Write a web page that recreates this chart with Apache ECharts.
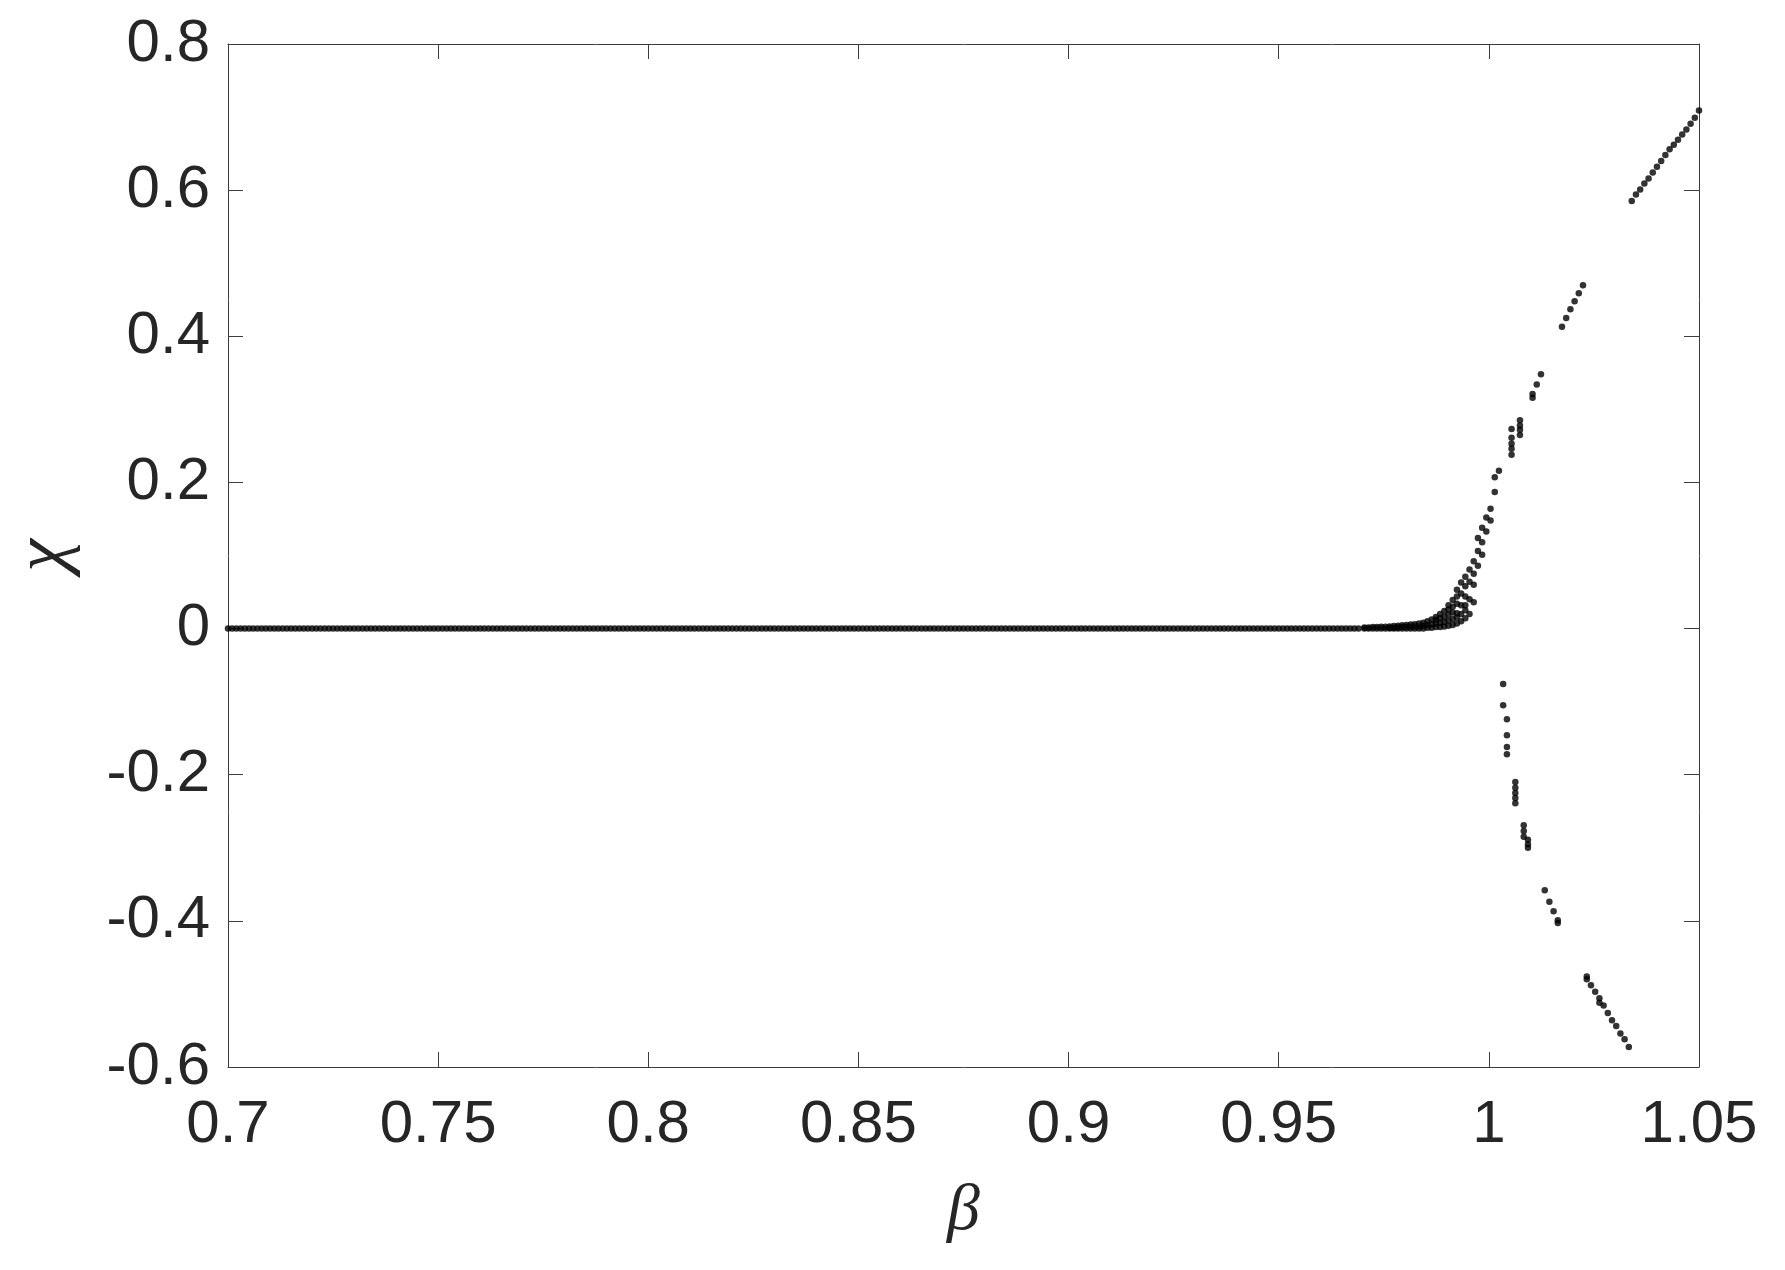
<!DOCTYPE html>
<html>
<head>
<meta charset="utf-8">
<title>chi vs beta</title>
<script src="https://cdn.jsdelivr.net/npm/echarts@6/dist/echarts.min.js"></script>
<style>
  html, body { margin: 0; padding: 0; background: #fff; }
  #chart { width: 1785px; height: 1270px; }
</style>
</head>
<body>
<div id="chart"></div>
<script>
// tick labels, printed the way matlab does it
const xTickLabels = ['0.7', '0.75', '0.8', '0.85', '0.9', '0.95', '1', '1.05']
const yTickLabels = ['-0.6', '-0.4', '-0.2', '0', '0.2', '0.4', '0.6', '0.8']

// beta samples where chi stays on zero
const betaFlat = [
  0.700, 0.701, 0.702, 0.703, 0.704, 0.705, 0.706, 0.707, 0.708, 0.709,
  0.710, 0.711, 0.712, 0.713, 0.714, 0.715, 0.716, 0.717, 0.718, 0.719,
  0.720, 0.721, 0.722, 0.723, 0.724, 0.725, 0.726, 0.727, 0.728, 0.729,
  0.730, 0.731, 0.732, 0.733, 0.734, 0.735, 0.736, 0.737, 0.738, 0.739,
  0.740, 0.741, 0.742, 0.743, 0.744, 0.745, 0.746, 0.747, 0.748, 0.749,
  0.750, 0.751, 0.752, 0.753, 0.754, 0.755, 0.756, 0.757, 0.758, 0.759,
  0.760, 0.761, 0.762, 0.763, 0.764, 0.765, 0.766, 0.767, 0.768, 0.769,
  0.770, 0.771, 0.772, 0.773, 0.774, 0.775, 0.776, 0.777, 0.778, 0.779,
  0.780, 0.781, 0.782, 0.783, 0.784, 0.785, 0.786, 0.787, 0.788, 0.789,
  0.790, 0.791, 0.792, 0.793, 0.794, 0.795, 0.796, 0.797, 0.798, 0.799,
  0.800, 0.801, 0.802, 0.803, 0.804, 0.805, 0.806, 0.807, 0.808, 0.809,
  0.810, 0.811, 0.812, 0.813, 0.814, 0.815, 0.816, 0.817, 0.818, 0.819,
  0.820, 0.821, 0.822, 0.823, 0.824, 0.825, 0.826, 0.827, 0.828, 0.829,
  0.830, 0.831, 0.832, 0.833, 0.834, 0.835, 0.836, 0.837, 0.838, 0.839,
  0.840, 0.841, 0.842, 0.843, 0.844, 0.845, 0.846, 0.847, 0.848, 0.849,
  0.850, 0.851, 0.852, 0.853, 0.854, 0.855, 0.856, 0.857, 0.858, 0.859,
  0.860, 0.861, 0.862, 0.863, 0.864, 0.865, 0.866, 0.867, 0.868, 0.869,
  0.870, 0.871, 0.872, 0.873, 0.874, 0.875, 0.876, 0.877, 0.878, 0.879,
  0.880, 0.881, 0.882, 0.883, 0.884, 0.885, 0.886, 0.887, 0.888, 0.889,
  0.890, 0.891, 0.892, 0.893, 0.894, 0.895, 0.896, 0.897, 0.898, 0.899,
  0.900, 0.901, 0.902, 0.903, 0.904, 0.905, 0.906, 0.907, 0.908, 0.909,
  0.910, 0.911, 0.912, 0.913, 0.914, 0.915, 0.916, 0.917, 0.918, 0.919,
  0.920, 0.921, 0.922, 0.923, 0.924, 0.925, 0.926, 0.927, 0.928, 0.929,
  0.930, 0.931, 0.932, 0.933, 0.934, 0.935, 0.936, 0.937, 0.938, 0.939,
  0.940, 0.941, 0.942, 0.943, 0.944, 0.945, 0.946, 0.947, 0.948, 0.949,
  0.950, 0.951, 0.952, 0.953, 0.954, 0.955, 0.956, 0.957, 0.958, 0.959,
  0.960, 0.961, 0.962, 0.963, 0.964, 0.965, 0.966, 0.967, 0.968, 0.969
]
const chiFlat = 0

// onset: several chi values per beta column
const betaRise = [
  0.9704, 0.9714, 0.9724, 0.9734, 0.9744, 0.9754, 0.9764, 0.9774, 0.9784, 0.9794,
  0.9804, 0.9814, 0.9824, 0.9834, 0.9844, 0.9854, 0.9864, 0.9874, 0.9884, 0.9894,
  0.9904, 0.9914, 0.9924, 0.9934, 0.9944, 0.9954, 0.9964, 0.9974, 0.9984, 0.9994,
  1.0004, 1.0014, 1.0024, 1.0054, 1.0074, 1.0104, 1.0114, 1.0124,
  1.0174, 1.0184, 1.0194, 1.0204, 1.0214, 1.0224
]
const chiRise = [
  [0, 0.0015], [0, 0.0015], [0, 0.002], [0, 0.002], [0, 0.0025],
  [0, 0.0025], [0, 0.001, 0.003], [0, 0.001, 0.0035], [0, 0.0015, 0.004], [0, 0.002, 0.0045],
  [0, 0.002, 0.005], [0, 0.0025, 0.0055], [0, 0.003, 0.006], [0, 0.003, 0.007], [0, 0.004, 0.008],
  [0.001, 0.005, 0.010], [0.001, 0.006, 0.0125], [0.002, 0.007, 0.012, 0.016],
  [0.002, 0.008, 0.014, 0.020], [0.003, 0.009, 0.016, 0.024],
  [0.004, 0.011, 0.019, 0.026, 0.032], [0.005, 0.013, 0.022, 0.030, 0.039],
  [0.007, 0.015, 0.021, 0.034, 0.044, 0.053], [0.010, 0.020, 0.032, 0.048, 0.063],
  [0.014, 0.025, 0.032, 0.044, 0.058, 0.071], [0.020, 0.040, 0.064, 0.081],
  [0.036, 0.060, 0.075, 0.092], [0.086, 0.106, 0.124], [0.101, 0.118, 0.138],
  [0.133, 0.152], [0.148, 0.164], [0.187, 0.207], [0.216],
  [0.238, 0.246, 0.253, 0.261, 0.273], [0.265, 0.272, 0.278, 0.285],
  [0.316, 0.321], [0.334], [0.348],
  [0.413], [0.425], [0.437], [0.448], [0.459], [0.470]
]

// negative branch
const betaLower = [
  1.0034, 1.0043, 1.0063, 1.0083, 1.0093, 1.0133, 1.0144, 1.0154, 1.0164,
  1.0233, 1.0243, 1.0253, 1.0263, 1.0273, 1.0283, 1.0293, 1.0303, 1.0313, 1.0323, 1.0333
]
const chiLower = [
  [-0.076, -0.105], [-0.124, -0.146, -0.162, -0.172], [-0.210, -0.218, -0.225, -0.232, -0.239],
  [-0.269, -0.277, -0.285], [-0.289, -0.295, -0.300], [-0.358], [-0.374], [-0.387], [-0.399, -0.403],
  [-0.476, -0.480], [-0.488], [-0.497], [-0.506, -0.512], [-0.516], [-0.526], [-0.536],
  [-0.544], [-0.554], [-0.562], [-0.5725]
]

// top branch
const betaUpper = [
  1.034, 1.035, 1.036, 1.037, 1.038, 1.039, 1.040, 1.041, 1.042,
  1.043, 1.044, 1.045, 1.046, 1.047, 1.048, 1.049, 1.050
]
const chiUpper = [
  0.585, 0.594, 0.601, 0.609, 0.616, 0.624, 0.632, 0.640, 0.648,
  0.656, 0.662, 0.669, 0.676, 0.683, 0.691, 0.699, 0.709
]

function columns(betas, chis) {
  const out = []
  betas.forEach((b, i) => {
    [].concat(chis[i]).forEach(c => out.push([b, c]))
  })
  return out
}

const points = []
  .concat(betaFlat.map(b => [b, chiFlat]))
  .concat(columns(betaRise, chiRise))
  .concat(columns(betaLower, chiLower))
  .concat(columns(betaUpper, chiUpper))

const textColor = '#262626'
const lineColor = '#3c3c3c'

const xBase = {
  type: 'value', min: 0.7, max: 1.05, interval: 0.05,
  axisLine: { show: true, onZero: false, lineStyle: { color: lineColor, width: 1 } },
  axisTick: { show: true, inside: true, length: 15, lineStyle: { color: lineColor, width: 1 } },
  splitLine: { show: false }
}
const yBase = {
  type: 'value', min: -0.6, max: 0.8, interval: 0.2,
  axisLine: { show: true, onZero: false, lineStyle: { color: lineColor, width: 1 } },
  axisTick: { show: true, inside: true, length: 15, lineStyle: { color: lineColor, width: 1 } },
  splitLine: { show: false }
}

const chart = echarts.init(document.getElementById('chart'))
chart.setOption({
  animation: false,
  backgroundColor: '#ffffff',
  grid: { left: 228, right: 86, top: 44, bottom: 203, containLabel: false, outerBoundsMode: 'none' },
  xAxis: [
    Object.assign({}, xBase, {
      position: 'bottom',
      name: 'β',
      nameLocation: 'middle',
      nameGap: 112,
      nameTextStyle: { fontFamily: 'Liberation Serif', fontStyle: 'italic', fontSize: 66, color: textColor },
      axisLabel: {
        margin: 28,
        fontFamily: 'Liberation Sans', fontSize: 60, color: textColor,
        formatter: v => xTickLabels[Math.round((v - 0.7) / 0.05)]
      }
    }),
    Object.assign({}, xBase, { position: 'top', axisLabel: { show: false } })
  ],
  yAxis: [
    Object.assign({}, yBase, {
      position: 'left',
      name: 'χ',
      nameLocation: 'middle',
      nameGap: 146,
      nameTextStyle: { fontFamily: 'Liberation Serif', fontStyle: 'italic', fontSize: 74, color: textColor },
      axisLabel: {
        margin: 18,
        fontFamily: 'Liberation Sans', fontSize: 60, color: textColor,
        formatter: v => yTickLabels[Math.round((v + 0.6) / 0.2)]
      }
    }),
    Object.assign({}, yBase, { position: 'right', axisLabel: { show: false } })
  ],
  series: [{
    type: 'scatter',
    xAxisIndex: 0,
    yAxisIndex: 0,
    data: points,
    symbol: 'circle',
    symbolSize: 6.5,
    itemStyle: { color: '#000000' },
    clip: false
  }]
})
</script>
</body>
</html>
